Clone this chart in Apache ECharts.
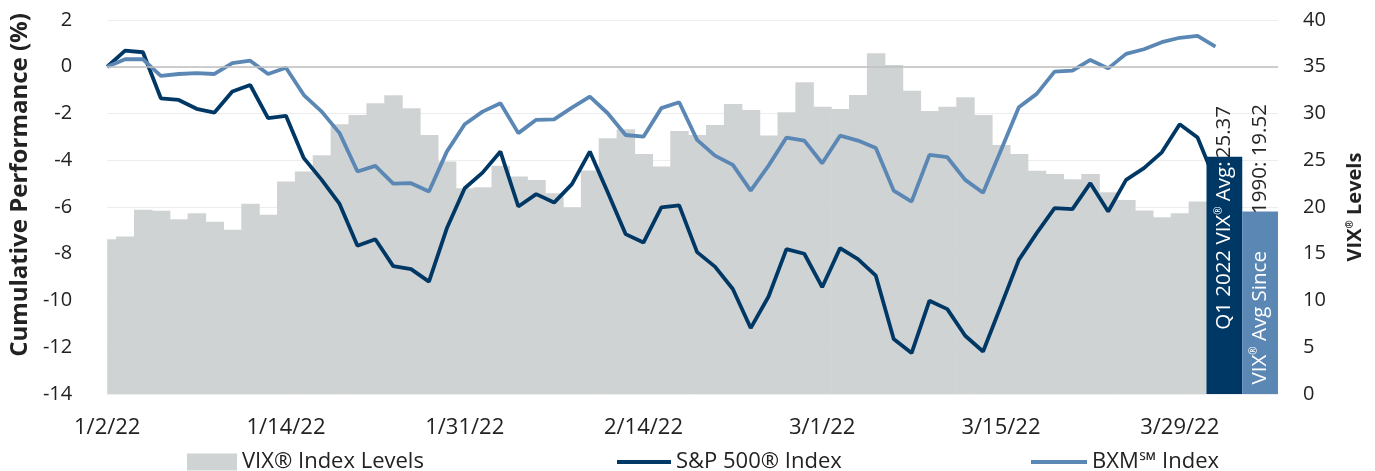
<!DOCTYPE html>
<html>
<head>
<meta charset="utf-8">
<script src="https://cdn.jsdelivr.net/npm/echarts@6/dist/echarts.min.js"></script>
<style>
  html, body { margin: 0; padding: 0; background: #fff; }
  #chart { width: 1375px; height: 471px; }
</style>
</head>
<body>
<div id="chart"></div>
<script>
// trading days, 1/2/22 is the base point (0%)
const dates = [
    '1/2/22', '1/3/22', '1/4/22', '1/5/22', '1/6/22', '1/7/22', '1/10/22', '1/11/22', '1/12/22', '1/13/22',
    '1/14/22', '1/18/22', '1/19/22', '1/20/22', '1/21/22', '1/24/22', '1/25/22', '1/26/22', '1/27/22', '1/28/22',
    '1/31/22', '2/1/22', '2/2/22', '2/3/22', '2/4/22', '2/7/22', '2/8/22', '2/9/22', '2/10/22', '2/11/22',
    '2/14/22', '2/15/22', '2/16/22', '2/17/22', '2/18/22', '2/22/22', '2/23/22', '2/24/22', '2/25/22', '2/28/22',
    '3/1/22', '3/2/22', '3/3/22', '3/4/22', '3/7/22', '3/8/22', '3/9/22', '3/10/22', '3/11/22', '3/14/22',
    '3/15/22', '3/16/22', '3/17/22', '3/18/22', '3/21/22', '3/22/22', '3/23/22', '3/24/22', '3/25/22', '3/28/22',
    '3/29/22', '3/30/22', '3/31/22'
];

// cumulative performance (%)
const spx = [
    0, 0.69, 0.62, -1.35, -1.42, -1.80, -1.96, -1.06, -0.78, -2.20,
    -2.10, -3.91, -4.84, -5.87, -7.66, -7.38, -8.53, -8.66, -9.19, -6.91,
    -5.20, -4.53, -3.63, -5.98, -5.45, -5.81, -5.02, -3.63, -5.37, -7.16,
    -7.52, -6.02, -5.93, -7.93, -8.55, -9.51, -11.18, -9.83, -7.80, -8.00,
    -9.43, -7.76, -8.23, -8.94, -11.65, -12.25, -10.01, -10.37, -11.51, -12.18,
    -10.23, -8.26, -7.12, -6.05, -6.09, -4.98, -6.19, -4.84, -4.34, -3.66,
    -2.46, -3.03, -4.90
];
const bxm = [
    0, 0.32, 0.32, -0.39, -0.31, -0.27, -0.31, 0.15, 0.26, -0.31,
    -0.04, -1.21, -1.92, -2.84, -4.48, -4.24, -5.00, -4.98, -5.34, -3.63,
    -2.46, -1.92, -1.56, -2.84, -2.27, -2.25, -1.75, -1.28, -1.99, -2.92,
    -2.99, -1.77, -1.52, -3.13, -3.80, -4.20, -5.30, -4.23, -3.03, -3.16,
    -4.13, -2.95, -3.16, -3.48, -5.30, -5.77, -3.77, -3.87, -4.84, -5.39,
    -3.57, -1.73, -1.16, -0.21, -0.17, 0.29, -0.07, 0.55, 0.75, 1.05,
    1.24, 1.32, 0.86
];

// VIX closes 1/3 .. 3/31 (the columns sit one slot left of the lines)
const vixLevels = [
    16.56, 16.85, 19.70, 19.59, 18.70, 19.34, 18.41, 17.56, 20.34, 19.16,
    22.72, 23.79, 25.54, 28.85, 29.85, 31.10, 31.95, 30.56, 27.71, 24.86,
    22.01, 22.12, 24.40, 23.26, 22.90, 21.48, 19.98, 23.90, 27.36, 28.32,
    25.68, 24.32, 28.14, 27.71, 28.78, 31.02, 30.38, 27.64, 30.13, 33.34,
    30.73, 30.49, 31.98, 36.44, 35.19, 32.44, 30.28, 30.73, 31.74, 29.85,
    26.64, 25.68, 23.87, 23.54, 22.97, 23.54, 21.59, 20.76, 19.62, 18.91,
    19.34, 20.58
];

// average boxes at the right end
const avgValues = [25.37, 19.52];
const avgTextIn = ['Q1 2022 VIX® Avg:', 'VIX® Avg Since'];
const avgTextOut = ['', '1990: '];
const avgColors = ['#003865', '#5b87b5'];

const FONT = '"Open Sans", sans-serif';
const DARK = '#003865';
const LIGHT = '#5b87b5';
const GREY = '#d0d3d4';
const TEXT = '#222';

const boxStart = vixLevels.length + 0.5;
const xMax = boxStart + 2 * avgValues.length - 1;

function markR(text, style) {
    return text.split('®').map(p => p ? '{' + style + '|' + p + '}' : '').join('{' + style + 'R|®}');
}

// columns one slot wide, clipped to the plot area
function renderVix(params, api) {
    const x = api.value(0);
    const v = api.value(1);
    const p0 = api.coord([x - 0.5, v]);
    const p1 = api.coord([x + 0.5, 0]);
    const cs = params.coordSys;
    const rect = echarts.graphic.clipRectByRect(
        { x: p0[0], y: p0[1], width: p1[0] - p0[0] + 0.6, height: p1[1] - p0[1] },
        { x: cs.x, y: cs.y, width: cs.width, height: cs.height }
    );
    return rect && { type: 'rect', shape: rect, style: { fill: GREY } };
}

const legendText = { fontSize: 22, color: TEXT, fontFamily: FONT };

const chart = echarts.init(document.getElementById('chart'));

const option = {
    animation: false,
    textStyle: { fontFamily: FONT },
    grid: { left: 104, right: 97, top: 20, bottom: 77 },
    legend: [
        { data: ['VIX® Index Levels'], left: 182, top: 446, icon: 'rect', itemWidth: 50, itemHeight: 17, textStyle: legendText },
        { data: ['S&P 500® Index'], left: 612, top: 446, icon: 'rect', itemWidth: 54, itemHeight: 4, textStyle: legendText },
        { data: ['BXM℠ Index'], left: 1026, top: 446, icon: 'rect', itemWidth: 56, itemHeight: 4, textStyle: legendText }
    ],
    xAxis: [{
        type: 'value',
        min: 0,
        max: xMax,
        interval: 10,
        axisLine: { show: false },
        axisTick: { show: false },
        splitLine: { show: false },
        axisLabel: {
            margin: 23,
            fontSize: 22,
            color: TEXT,
            showMaxLabel: false,
            formatter: v => dates[v] || ''
        }
    }, {
        type: 'value',
        min: 0,
        max: xMax,
        show: false
    }],
    yAxis: [{
        type: 'value',
        min: -14,
        max: 2,
        interval: 2,
        name: 'Cumulative Performance (%)',
        nameLocation: 'middle',
        nameGap: 71,
        nameTextStyle: { fontSize: 24, fontWeight: 'bold', color: TEXT, padding: [0, 0, 0, 44] },
        axisLine: { show: false },
        axisTick: { show: false },
        axisLabel: { fontSize: 20, color: TEXT, margin: 35 },
        splitLine: { lineStyle: { color: '#ededed', width: 1 } }
    }, {
        type: 'value',
        min: 0,
        max: 40,
        interval: 5,
        name: '{t|VIX}{s|®}{t| Levels}',
        nameLocation: 'middle',
        nameGap: 67,
        nameTextStyle: {
            rich: {
                t: { fontSize: 20, fontWeight: 'bold', color: TEXT, fontFamily: FONT },
                s: { fontSize: 10, fontWeight: 'bold', color: TEXT, fontFamily: FONT, verticalAlign: 'top' }
            }
        },
        axisLine: { show: false },
        axisTick: { show: false },
        axisLabel: { fontSize: 20, color: TEXT, margin: 25 },
        splitLine: { show: false }
    }],
    series: [{
        name: 'VIX® Index Levels',
        type: 'custom',
        xAxisIndex: 0,
        yAxisIndex: 1,
        z: 1,
        itemStyle: { color: GREY },
        encode: { x: 0, y: 1 },
        renderItem: renderVix,
        data: vixLevels.map((v, i) => [i, v])
    }, {
        name: 'S&P 500® Index',
        type: 'line',
        yAxisIndex: 0,
        symbol: 'none',
        z: 3,
        lineStyle: { width: 3.8, color: DARK },
        itemStyle: { color: DARK },
        data: spx.map((v, i) => [i, v]),
        markLine: {
            silent: true,
            symbol: 'none',
            label: { show: false },
            lineStyle: { color: '#bfbfbf', width: 1.5, type: 'solid' },
            data: [{ yAxis: 0 }]
        }
    }, {
        name: 'BXM℠ Index',
        type: 'line',
        yAxisIndex: 0,
        symbol: 'none',
        z: 3,
        lineStyle: { width: 3.8, color: LIGHT },
        itemStyle: { color: LIGHT },
        data: bxm.map((v, i) => [i, v])
    }, {
        name: 'avg',
        type: 'bar',
        xAxisIndex: 1,
        yAxisIndex: 1,
        barWidth: '100%',
        z: 4,
        data: avgValues.map((v, i) => ({
            value: [boxStart + 2 * i, v],
            itemStyle: { color: avgColors[i] }
        })),
        label: {
            show: true,
            rotate: 90,
            position: ['50%', 173],
            align: 'left',
            verticalAlign: 'middle',
            formatter: p => markR(avgTextIn[p.dataIndex], 'w') + ' {' + (avgTextOut[p.dataIndex] ? 'dg' : 'd') + '|'
                + avgTextOut[p.dataIndex] + avgValues[p.dataIndex].toFixed(2) + '}',
            rich: {
                w: { color: '#fff', fontSize: 20.5, fontFamily: FONT },
                wR: { color: '#fff', fontSize: 10, fontFamily: FONT, verticalAlign: 'top' },
                d: { color: '#262626', fontSize: 20.5, fontFamily: FONT },
                dg: { color: '#262626', fontSize: 20.5, fontFamily: FONT, padding: [0, 0, 0, 34] }
            }
        }
    }]
};

chart.setOption(option);
</script>
</body>
</html>
